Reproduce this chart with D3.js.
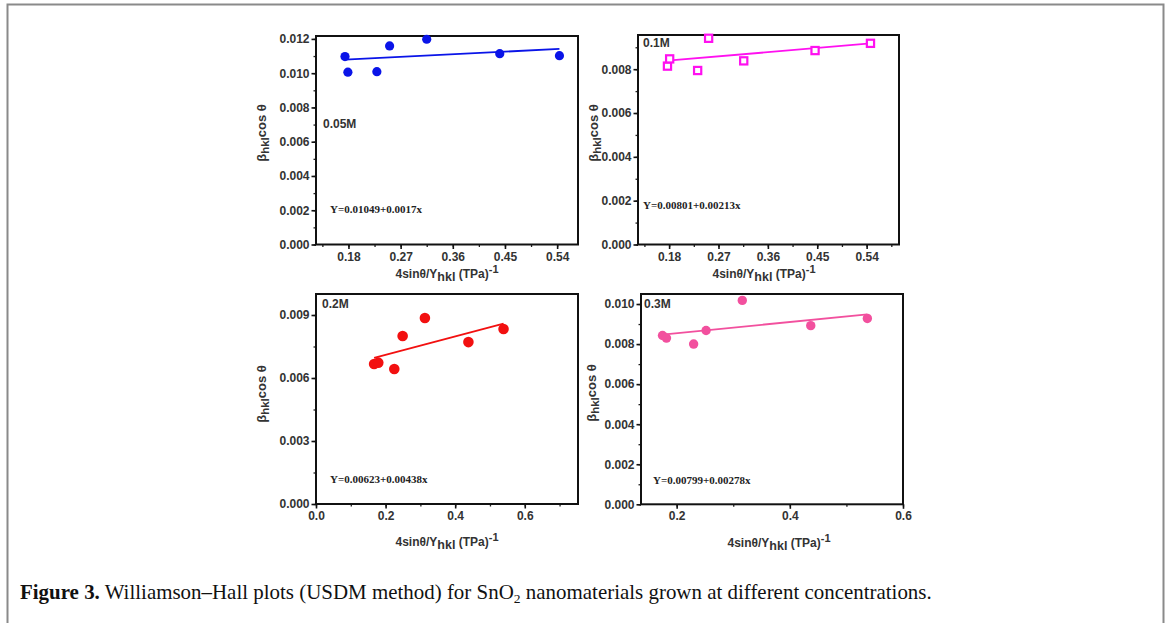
<!DOCTYPE html>
<html>
<head>
<meta charset="utf-8">
<script src="https://cdn.jsdelivr.net/npm/d3@7"></script>
<style>
  html, body { margin: 0; padding: 0; background: #fff; }
  svg { display: block; font-family: "Liberation Sans", Arial, sans-serif; }
</style>
</head>
<body>
<svg id="fig" width="1170" height="623"></svg>
<script>
// Williamson–Hall data: x = 4 sinθ / Y_hkl (TPa^-1), y = β_hkl cos θ
const x005 = [0.174, 0.179, 0.229, 0.251, 0.315, 0.441, 0.544];
const y005 = [0.01097, 0.01006, 0.01009, 0.01159, 0.01198, 0.01114, 0.01102];

const x01 = [0.177, 0.181, 0.232, 0.252, 0.316, 0.446, 0.547];
const y01 = [0.00814, 0.00847, 0.00794, 0.00941, 0.00838, 0.00885, 0.00918];

const x02 = [0.167, 0.179, 0.225, 0.249, 0.313, 0.438, 0.539];
const y02 = [0.00667, 0.00673, 0.00643, 0.00800, 0.00886, 0.00771, 0.00833];

const x03 = [0.175, 0.182, 0.230, 0.252, 0.316, 0.437, 0.537];
const y03 = [0.00843, 0.00830, 0.00800, 0.00868, 0.01018, 0.00892, 0.00928];

// Linear fits  Y = intercept + slope * x
const intercepts = [0.01049, 0.00801, 0.00623, 0.00799];
const slopes = [0.0017, 0.00213, 0.00438, 0.00278];
const fitLabels = ["Y=0.01049+0.0017x", "Y=0.00801+0.00213x", "Y=0.00623+0.00438x", "Y=0.00799+0.00278x"];
const concLabels = ["0.05M", "0.1M", "0.2M", "0.3M"];

// Tick values
const xTicks005 = [0.18, 0.27, 0.36, 0.45, 0.54];
const xTicks01 = [0.18, 0.27, 0.36, 0.45, 0.54];
const xTicks02 = [0.0, 0.2, 0.4, 0.6];
const xTicks03 = [0.2, 0.4, 0.6];
const yTicks005 = [0, 0.002, 0.004, 0.006, 0.008, 0.010, 0.012];
const yTicks01 = [0, 0.002, 0.004, 0.006, 0.008];
const yTicks02 = [0, 0.003, 0.006, 0.009];
const yTicks03 = [0, 0.002, 0.004, 0.006, 0.008, 0.010];

const captionBold = "Figure 3.";
const captionText = " Williamson–Hall plots (USDM method) for SnO";
const captionSub = "2";
const captionTail = " nanomaterials grown at different concentrations.";

const SANS = "'Liberation Sans', Arial, sans-serif";
const SERIF = "'Liberation Serif', 'Times New Roman', serif";

const svg = d3.select("#fig");

// page frame
svg.append("path")
  .attr("d", "M7.5,640 V4.5 H1163.5 V640")
  .attr("fill", "none").attr("stroke", "#8a8a8a").attr("stroke-width", 2);

const panels = [
  { xs: x005, ys: y005, box: [316, 36, 578, 244.5], xd: [0.124, 0.576], yd: [0, 0.01217],
    xt: xTicks005, xMinor: 0.045, xf: ".2f", yt: yTicks005, yMinor: 0.001, yf: ".3f",
    color: "#0a14e8", marker: "circle", r: 4.6,
    conc: [323, 128], fit: [330, 213], ylab: [266, 133], xlab: [447, 278] },
  { xs: x01, ys: y01, box: [638, 35, 899, 244.5], xd: [0.1233, 0.599], yd: [0, 0.00956],
    xt: xTicks01, xMinor: 0.045, xf: ".2f", yt: yTicks01, yMinor: 0.001, yf: ".3f",
    color: "#ff10f0", marker: "square", r: 3.6,
    conc: [643, 47], fit: [643, 209], ylab: [598, 133], xlab: [764, 278] },
  { xs: x02, ys: y02, box: [316, 294, 578, 504], xd: [0, 0.753], yd: [0, 0.010],
    xt: xTicks02, xMinor: 0.1, xf: ".1f", yt: yTicks02, yMinor: 0.0015, yf: ".3f",
    color: "#f21010", marker: "circle", r: 5.3,
    conc: [322, 308], fit: [330, 483], ylab: [266, 394], xlab: [447, 546] },
  { xs: x03, ys: y03, box: [641, 294, 903, 504.3], xd: [0.137, 0.6], yd: [0, 0.0105],
    xt: xTicks03, xMinor: 0.1, xf: ".1f", yt: yTicks03, yMinor: 0.001, yf: ".3f",
    color: "#f2509e", marker: "circle", r: 4.7,
    conc: [644, 308], fit: [653, 484], ylab: [596, 393], xlab: [779, 547] }
];

function minorValues(domain, step) {
  const out = [];
  const start = Math.ceil(domain[0] / step - 1e-9);
  for (let k = start; k * step <= domain[1] + 1e-12; k++) out.push(+(k * step).toFixed(6));
  return out;
}

panels.forEach((p, i) => {
  const [x0, y0, x1, y1] = p.box;
  const x = d3.scaleLinear().domain(p.xd).range([x0, x1]);
  const y = d3.scaleLinear().domain(p.yd).range([y1, y0]);
  const g = svg.append("g");

  // minor ticks
  const xm = minorValues(p.xd, p.xMinor);
  g.append("g").attr("transform", `translate(0,${y1})`)
    .call(d3.axisBottom(x).tickValues(xm).tickSize(2.5).tickFormat(""))
    .call(a => a.select(".domain").remove())
    .call(a => a.selectAll("line").attr("stroke", "#222").attr("stroke-width", 1.3));
  const ym = minorValues(p.yd, p.yMinor);
  g.append("g").attr("transform", `translate(${x0},0)`)
    .call(d3.axisLeft(y).tickValues(ym).tickSize(2.5).tickFormat(""))
    .call(a => a.select(".domain").remove())
    .call(a => a.selectAll("line").attr("stroke", "#222").attr("stroke-width", 1.3));

  // major ticks + labels
  const xa = g.append("g").attr("transform", `translate(0,${y1})`)
    .call(d3.axisBottom(x).tickValues(p.xt).tickSize(4.5).tickPadding(3).tickFormat(d3.format(p.xf)));
  xa.select(".domain").remove();
  xa.selectAll("line").attr("stroke", "#111").attr("stroke-width", 1.6);
  xa.selectAll("text").attr("font-size", 12).attr("font-weight", "bold").attr("fill", "#333")
    .style("font-family", SANS);

  const ya = g.append("g").attr("transform", `translate(${x0},0)`)
    .call(d3.axisLeft(y).tickValues(p.yt).tickSize(4.5).tickPadding(2).tickFormat(d3.format(p.yf)));
  ya.select(".domain").remove();
  ya.selectAll("line").attr("stroke", "#111").attr("stroke-width", 1.6);
  ya.selectAll("text").attr("font-size", 12).attr("font-weight", "bold").attr("fill", "#333")
    .style("font-family", SANS);

  // plot frame
  g.append("rect").attr("x", x0).attr("y", y0).attr("width", x1 - x0).attr("height", y1 - y0)
    .attr("fill", "none").attr("stroke", "#111").attr("stroke-width", 2);

  // fit line across the data range
  const xmin = d3.min(p.xs), xmax = d3.max(p.xs);
  const fit = d => intercepts[i] + slopes[i] * d;
  g.append("line")
    .attr("x1", x(xmin)).attr("y1", y(fit(xmin)))
    .attr("x2", x(xmax)).attr("y2", y(fit(xmax)))
    .attr("stroke", p.color).attr("stroke-width", 1.8);

  // data markers
  const pts = p.xs.map((v, k) => [v, p.ys[k]]);
  if (p.marker === "circle") {
    g.selectAll("circle.pt").data(pts).join("circle").attr("class", "pt")
      .attr("cx", d => x(d[0])).attr("cy", d => y(d[1])).attr("r", p.r)
      .attr("fill", p.color);
  } else {
    g.selectAll("rect.pt").data(pts).join("rect").attr("class", "pt")
      .attr("x", d => x(d[0]) - p.r).attr("y", d => y(d[1]) - p.r)
      .attr("width", 2 * p.r).attr("height", 2 * p.r)
      .attr("fill", "#fff").attr("stroke", p.color).attr("stroke-width", 2.2);
  }

  // concentration label
  g.append("text").attr("x", p.conc[0]).attr("y", p.conc[1])
    .attr("font-size", 12).attr("font-weight", "bold").attr("fill", "#333")
    .style("font-family", SANS)
    .text(concLabels[i]);

  // fit equation
  g.append("text").attr("x", p.fit[0]).attr("y", p.fit[1])
    .style("font-family", SERIF)
    .attr("font-size", 11).attr("font-weight", "bold").attr("fill", "#222")
    .text(fitLabels[i]);

  // y axis title
  const yl = g.append("text")
    .attr("transform", `translate(${p.ylab[0]},${p.ylab[1]}) rotate(-90)`)
    .attr("text-anchor", "middle").attr("font-size", 13).attr("font-weight", "bold").attr("fill", "#333")
    .style("font-family", SANS);
  yl.append("tspan").text("β");
  yl.append("tspan").attr("font-size", 11.5).attr("dy", 3).text("hkl");
  yl.append("tspan").attr("dy", -3).text("cos θ");

  // x axis title
  const xl = g.append("text").attr("x", p.xlab[0]).attr("y", p.xlab[1])
    .attr("text-anchor", "middle").attr("font-size", 12).attr("font-weight", "bold").attr("fill", "#333")
    .style("font-family", SANS);
  xl.append("tspan").text("4sinθ/Y");
  xl.append("tspan").attr("font-size", 12.5).attr("dy", 3).text("hkl");
  xl.append("tspan").attr("dy", -3).text(" (TPa)");
  xl.append("tspan").attr("font-size", 11).attr("dy", -5).text("-1");
});

// caption (condensed serif)
const cap = svg.append("text")
  .style("font-family", SERIF)
  .attr("font-size", 20).attr("fill", "#111");
cap.append("tspan").attr("font-weight", "bold").text(captionBold);
cap.append("tspan").text(captionText);
cap.append("tspan").attr("font-size", 13).attr("dy", 4).text(captionSub);
cap.append("tspan").attr("dy", -4).text(captionTail);
const capW = cap.node().getComputedTextLength();
cap.attr("transform", `translate(20,599) scale(${912 / capW},1)`);
</script>
</body>
</html>
